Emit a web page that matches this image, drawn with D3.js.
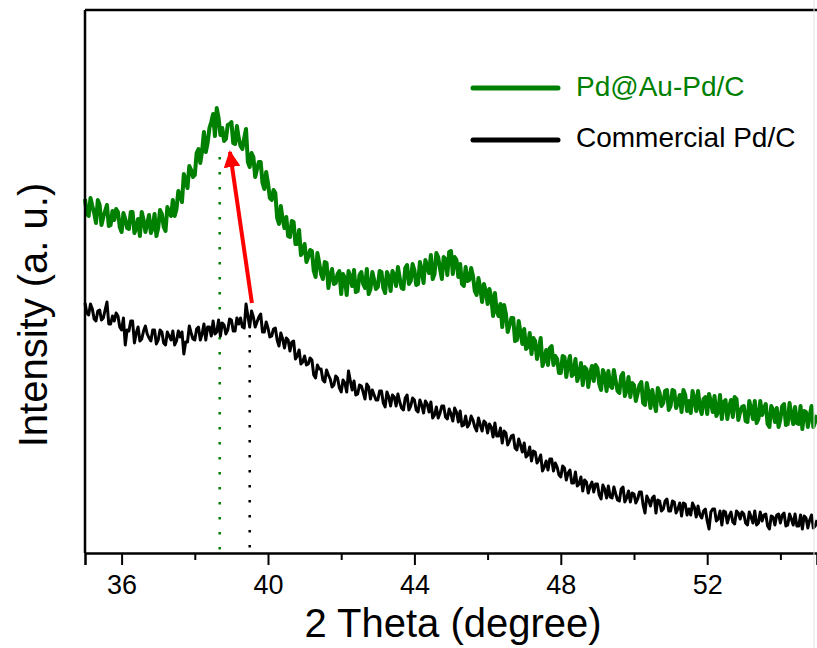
<!DOCTYPE html>
<html>
<head>
<meta charset="utf-8">
<script src="https://cdn.jsdelivr.net/npm/d3@7"></script>
<style>
  body { margin: 0; background: #fff; }
  text { font-family: Arial, "Liberation Sans", sans-serif; }
</style>
</head>
<body>
<div id="chart"></div>
<script>
// 2 theta from 35 to 55, one reading every 0.05 degree
var thetaStart = 35, thetaStep = 0.05;

var pdAuValues = [
  354, 339, 337, 355, 347, 340, 330, 353, 348, 328, 336, 342, 348, 327, 328, 342, 333, 344, 341, 326,
  321, 340, 334, 325, 324, 341, 341, 320, 325, 334, 317, 341, 333, 321, 329, 338, 320, 325, 339, 317,
  325, 343, 339, 326, 322, 346, 340, 337, 353, 337, 344, 362, 358, 351, 379, 373, 365, 387, 383, 376,
  378, 400, 404, 390, 402, 421, 401, 410, 425, 431, 439, 417, 445, 435, 418, 425, 412, 414, 428, 429,
  431, 410, 409, 427, 415, 407, 404, 415, 424, 391, 386, 400, 396, 376, 384, 391, 391, 370, 364, 381,
  370, 355, 353, 363, 360, 335, 329, 347, 334, 325, 336, 317, 316, 332, 331, 309, 309, 323, 298, 301,
  309, 291, 296, 303, 302, 282, 276, 300, 290, 279, 274, 291, 290, 265, 277, 284, 269, 270, 279, 282,
  259, 279, 275, 258, 282, 276, 267, 283, 261, 262, 278, 281, 269, 265, 284, 259, 264, 281, 273, 264,
  266, 282, 281, 265, 260, 281, 276, 262, 282, 278, 267, 286, 275, 265, 264, 285, 288, 269, 272, 289,
  283, 268, 269, 291, 283, 270, 293, 287, 280, 298, 274, 279, 300, 296, 284, 274, 296, 294, 278, 301,
  302, 279, 296, 293, 276, 289, 269, 267, 286, 272, 273, 285, 277, 262, 258, 275, 265, 251, 269, 262,
  249, 264, 255, 237, 260, 242, 237, 249, 226, 248, 239, 221, 228, 235, 235, 212, 213, 232, 220, 209,
  224, 204, 206, 220, 199, 215, 212, 194, 203, 215, 187, 193, 203, 188, 205, 207, 188, 197, 194, 180,
  180, 197, 196, 176, 189, 197, 177, 179, 194, 172, 178, 190, 168, 186, 184, 166, 179, 187, 172, 188,
  185, 169, 163, 183, 178, 162, 182, 167, 165, 183, 172, 162, 160, 177, 180, 157, 163, 176, 156, 170,
  168, 152, 160, 168, 171, 150, 148, 170, 160, 145, 163, 151, 142, 165, 160, 147, 150, 162, 163, 143,
  147, 163, 162, 145, 150, 158, 141, 163, 158, 142, 152, 140, 162, 154, 142, 162, 146, 139, 154, 156,
  139, 159, 151, 141, 157, 137, 141, 158, 134, 151, 153, 134, 146, 153, 136, 156, 154, 133, 141, 146,
  147, 132, 131, 152, 144, 134, 152, 130, 134, 152, 138, 145, 149, 129, 126, 147, 143, 131, 145, 126,
  134, 147, 149, 128, 129, 150, 138, 129, 146, 130, 129, 147, 124, 142, 141, 126, 137, 147, 126, 131,
  138
];

var commercialValues = [
  250, 240, 238, 249, 244, 234, 232, 242, 243, 233, 235, 243, 251, 229, 229, 237, 232, 240, 237, 226,
  223, 235, 208, 223, 222, 232, 232, 210, 220, 226, 212, 214, 222, 227, 219, 215, 212, 223, 223, 209,
  213, 223, 221, 210, 208, 221, 217, 213, 222, 208, 212, 222, 216, 221, 199, 211, 211, 227, 220, 214,
  213, 224, 226, 213, 219, 229, 213, 226, 226, 217, 232, 219, 221, 233, 217, 230, 228, 219, 223, 234,
  233, 222, 222, 235, 229, 235, 226, 225, 249, 237, 226, 242, 236, 226, 231, 236, 239, 221, 221, 231,
  225, 216, 217, 224, 225, 213, 207, 220, 214, 205, 215, 213, 202, 211, 212, 194, 197, 203, 189, 191,
  197, 188, 189, 195, 193, 178, 175, 188, 184, 184, 173, 171, 183, 178, 174, 166, 168, 177, 175, 165,
  161, 173, 170, 161, 182, 172, 163, 172, 158, 159, 168, 167, 161, 154, 169, 166, 154, 163, 158, 153,
  153, 162, 162, 150, 146, 161, 156, 147, 158, 156, 147, 159, 151, 145, 143, 155, 158, 143, 147, 155,
  153, 143, 141, 153, 148, 140, 152, 149, 141, 151, 135, 138, 146, 135, 140, 147, 147, 136, 134, 144,
  139, 132, 145, 141, 131, 142, 127, 128, 137, 126, 129, 137, 133, 126, 122, 135, 128, 122, 132, 130,
  120, 129, 126, 116, 130, 117, 117, 125, 110, 122, 120, 108, 112, 117, 118, 105, 103, 114, 108, 101,
  110, 96, 98, 106, 92, 102, 101, 90, 93, 98, 82, 86, 92, 83, 94, 94, 82, 90, 86, 78,
  76, 87, 85, 73, 80, 83, 70, 70, 81, 67, 69, 76, 62, 73, 71, 60, 67, 71, 61, 69,
  69, 58, 54, 68, 64, 55, 67, 56, 55, 66, 59, 53, 52, 64, 66, 51, 55, 62, 51, 60,
  59, 50, 54, 61, 61, 48, 40, 57, 53, 47, 55, 57, 40, 53, 52, 42, 44, 52, 54, 42,
  42, 52, 51, 40, 44, 50, 37, 50, 49, 38, 44, 38, 50, 46, 36, 47, 38, 35, 42, 44,
  32, 24, 41, 44, 44, 32, 34, 42, 28, 42, 41, 30, 37, 41, 31, 29, 42, 40, 34, 41,
  39, 30, 28, 41, 36, 30, 42, 28, 30, 41, 32, 38, 39, 27, 24, 37, 36, 28, 38, 39,
  30, 38, 40, 27, 28, 39, 34, 28, 39, 27, 27, 38, 24, 37, 35, 25, 33, 38, 25, 27,
  33
];

var seriesNames = ["Pd@Au-Pd/C", "Commercial Pd/C"];
var seriesColors = ["#008000", "#000000"];

var majorTicks = [36, 40, 44, 48, 52];
var minorTicks = [38, 42, 46, 50, 54];

// peak positions marked with dotted lines, and where each mark starts
var peakTheta = [38.68, 39.5];
var peakTop = [396, 218];

// red arrow showing the shift, from commercial peak to Pd@Au-Pd/C peak
var arrowFrom = [39.56, 250];
var arrowTo = [38.96, 401];

var margin = {top: 10, right: 0, bottom: 95, left: 85},
    width = 817 - margin.left - margin.right,
    height = 648 - margin.top - margin.bottom;

var svg = d3.select("#chart").append("svg")
    .attr("width", 817)
    .attr("height", 648);

var g = svg.append("g")
    .attr("transform", "translate(" + margin.left + "," + margin.top + ")");

var x = d3.scaleLinear()
    .domain([35, 55])
    .range([0, width]);

var y = d3.scaleLinear()
    .domain([0, 543])
    .range([height, 0]);

function toPoints(values) {
    return values.map(function(v, i) {
        return {t: thetaStart + i * thetaStep, v: v};
    });
}

var line = d3.line()
    .x(function(d) { return x(d.t); })
    .y(function(d) { return y(d.v); });

// dotted peak markers
peakTheta.forEach(function(t, i) {
    g.append("line")
        .attr("x1", x(t)).attr("x2", x(t))
        .attr("y1", y(peakTop[i])).attr("y2", height)
        .attr("stroke", seriesColors[i])
        .attr("stroke-width", 2.5)
        .attr("stroke-dasharray", "2.5,12.5");
});

g.append("path")
    .datum(toPoints(commercialValues))
    .attr("d", line)
    .attr("fill", "none")
    .attr("stroke", seriesColors[1])
    .attr("stroke-width", 3)
    .attr("stroke-linejoin", "round");

g.append("path")
    .datum(toPoints(pdAuValues))
    .attr("d", line)
    .attr("fill", "none")
    .attr("stroke", seriesColors[0])
    .attr("stroke-width", 4)
    .attr("stroke-linejoin", "round");

// arrow
svg.append("defs").append("marker")
    .attr("id", "head")
    .attr("viewBox", "0 0 10 10")
    .attr("refX", 9).attr("refY", 5)
    .attr("markerWidth", 4.2).attr("markerHeight", 4.2)
    .attr("markerUnits", "strokeWidth")
    .attr("orient", "auto")
    .append("path")
    .attr("d", "M0,0 L10,5 L0,10 Z")
    .attr("fill", "#ff0000");

g.append("line")
    .attr("x1", x(arrowFrom[0])).attr("y1", y(arrowFrom[1]))
    .attr("x2", x(arrowTo[0])).attr("y2", y(arrowTo[1]))
    .attr("stroke", "#ff0000")
    .attr("stroke-width", 4)
    .attr("marker-end", "url(#head)");

// frame: left, top and bottom
g.append("line")
    .attr("x1", 0).attr("x2", 0).attr("y1", 0).attr("y2", height)
    .attr("stroke", "#000").attr("stroke-width", 2.5);
g.append("line")
    .attr("x1", 0).attr("x2", width).attr("y1", 0).attr("y2", 0)
    .attr("stroke", "#000").attr("stroke-width", 2.5);
svg.append("line")
    .attr("x1", 814).attr("x2", 814).attr("y1", 0).attr("y2", 648)
    .attr("stroke", "#e2e2e2").attr("stroke-width", 1);

var xAxis = g.append("g")
    .attr("transform", "translate(0," + height + ")")
    .call(d3.axisBottom(x).tickValues(majorTicks).tickSize(12).tickPadding(10)
        .tickFormat(d3.format("d")));
xAxis.select(".domain").attr("stroke-width", 2.5);
xAxis.selectAll(".tick line").attr("stroke-width", 2);
xAxis.selectAll(".tick text")
    .attr("font-size", 27)
    .attr("font-family", "Arial, 'Liberation Sans', sans-serif");

var xMinor = g.append("g")
    .attr("transform", "translate(0," + height + ")")
    .call(d3.axisBottom(x).tickValues(minorTicks).tickSize(7).tickFormat(""));
xMinor.select(".domain").remove();
xMinor.selectAll(".tick line").attr("stroke-width", 2);

svg.append("text")
    .attr("x", 453)
    .attr("y", 637)
    .attr("text-anchor", "middle")
    .attr("font-size", 40)
    .text("2 Theta (degree)");

svg.append("text")
    .attr("transform", "translate(47,315) rotate(-90)")
    .attr("text-anchor", "middle")
    .attr("font-size", 40)
    .text("Intensity (a. u.)");

// legend
var legend = svg.append("g");
seriesNames.forEach(function(name, i) {
    legend.append("line")
        .attr("x1", 473).attr("x2", 558)
        .attr("y1", 88 + i * 52).attr("y2", 88 + i * 52)
        .attr("stroke", seriesColors[i])
        .attr("stroke-width", 5)
        .attr("stroke-linecap", "round");
    legend.append("text")
        .attr("x", 576)
        .attr("y", 96 + i * 51)
        .attr("font-size", 28)
        .attr("fill", seriesColors[i])
        .text(name);
});
</script>
</body>
</html>
